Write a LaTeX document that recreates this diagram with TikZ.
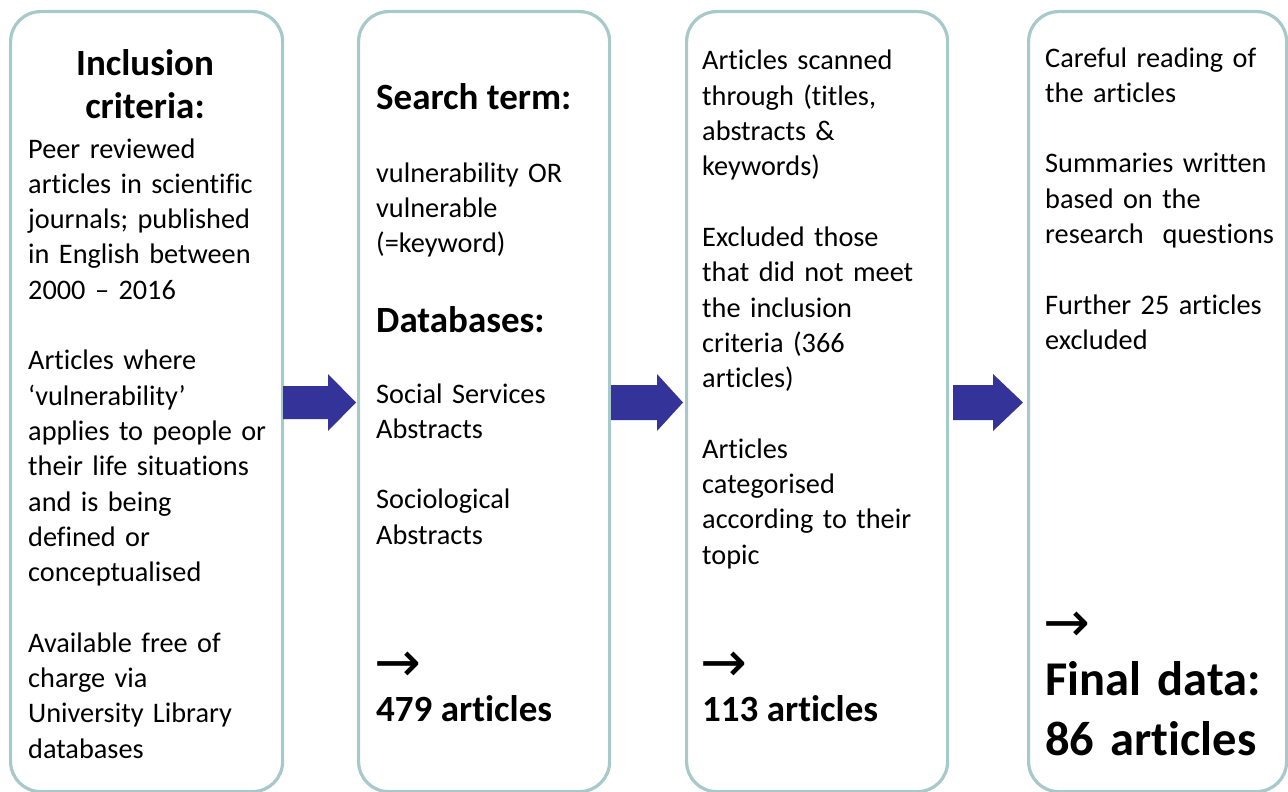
\documentclass[tikz,border=0pt]{standalone}
\usepackage{fontspec}
\setmainfont{Carlito}[RawFeature=-liga]
\newfontfamily\arrowfont{DejaVu Sans}
\definecolor{boxc}{HTML}{A8C9C9}
\definecolor{arrc}{HTML}{33339A}
\begin{document}
\begin{tikzpicture}[x=1pt,y=-1pt,
  stagebox/.style={draw=boxc, line width=3.2pt, rounded corners=30pt, fill=white, anchor=north west, inner sep=0pt},
  body/.style={anchor=base west, inner sep=0pt, text width=300pt, align=left, font=\fontsize{28.3}{35.3}\selectfont},
  head/.style={anchor=base west, inner sep=0pt, font=\bfseries\fontsize{37}{44}\selectfont},
  headc/.style={anchor=base, inner sep=0pt, font=\bfseries\fontsize{37}{44}\selectfont},
  big/.style={anchor=base west, inner sep=0pt, text width=300pt, align=left, font=\bfseries\fontsize{48.5}{60}\selectfont},
  arr/.style={anchor=base west, inner sep=0pt, font=\arrowfont\fontsize{56}{60}\selectfont},
  blockarrow/.style={fill=arrc, draw=none}
]
\useasboundingbox (0,0) rectangle (1288,792);

% boxes
\node[stagebox, minimum width=272pt, minimum height=780pt] (b1) at (9,10) {};
\node[stagebox, minimum width=251pt, minimum height=780pt] (b2) at (357,10) {};
\node[stagebox, minimum width=261pt, minimum height=780pt] (b3) at (685,10) {};
\node[stagebox, minimum width=258pt, minimum height=780pt] (b4) at (1027,10) {};

% block arrows
\fill[blockarrow] (283,386) -- (328,386) -- (328,374) -- (356,402.5) -- (328,431) -- (328,419) -- (283,419) -- cycle;
\fill[blockarrow] (611,385) -- (657,385) -- (657,374) -- (683,402.5) -- (657,431) -- (657,420) -- (611,420) -- cycle;
\fill[blockarrow] (953,385) -- (993,385) -- (993,374) -- (1023,402.5) -- (993,431) -- (993,420) -- (953,420) -- cycle;

% box 1
\node[headc] (h1a) at (145,75) {Inclusion};
\node[headc] (h1b) at (145,118) {criteria:};
\node[body] (t1) at (28,158) {Peer reviewed\\
articles in scientific\\
journals; published\\
in English between\\
2000 – 2016\\[35.3pt]
Articles where\\
‘vulnerability’\\
applies to people or\\
their life situations\\
and is being\\
defined or\\
conceptualised\\[35.3pt]
Available free of\\
charge via\\
University Library\\
databases};

% box 2
\node[head] (h2a) at (376,109) {Search term:};
\node[body] (t2a) at (376,182) {vulnerability OR\\
vulnerable\\
(=keyword)};
\node[head] (h2b) at (376,332) {Databases:};
\node[body] (t2b) at (376,403) {Social Services\\
Abstracts\\[35.3pt]
Sociological\\
Abstracts};
\node[arr] (a2) at (374,681) {→};
\node[head] (r2) at (376,721) {479 articles};

% box 3
\node[body] (t3) at (702,70) {Articles scanned\\
through (titles,\\
abstracts \&\\
keywords)\\[35.3pt]
Excluded those\\
that did not meet\\
the inclusion\\
criteria (366\\
articles)\\[35.3pt]
Articles\\
categorised\\
according to their\\
topic};
\node[arr] (a3) at (700,681) {→};
\node[head] (r3) at (702,721) {113 articles};

% box 4
\node[body] (t4) at (1045,67) {Careful reading of\\
the articles\\[35.3pt]
Summaries written\\
based on the\\
research\ \ questions\\[35.3pt]
Further 25 articles\\
excluded};
\node[arr] (a4) at (1043,641) {→};
\node[big] (r4) at (1045,695) {Final data:\\86 articles};
\end{tikzpicture}
\end{document}
